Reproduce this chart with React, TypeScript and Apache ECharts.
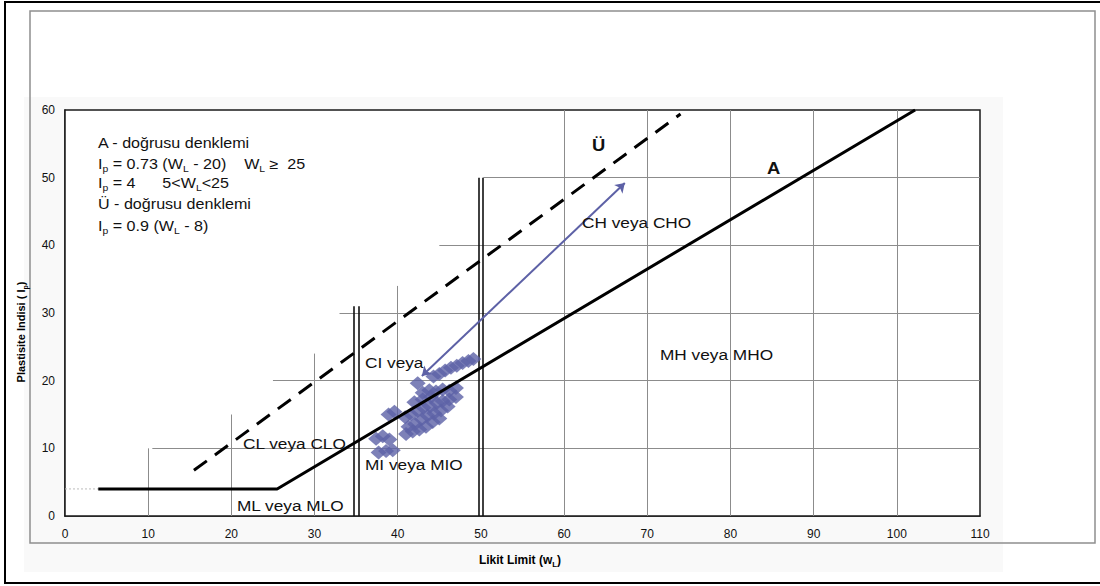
import React, { useEffect, useRef } from "react";
import * as echarts from "echarts";

// ---- axis ranges / ticks ----
const X_MIN = 0;
const X_MAX = 110;
const X_STEP = 10;
const Y_MIN = 0;
const Y_MAX = 60;
const Y_STEP = 10;

// ---- classification lines ----
const aLine: number[][] = [
  [4, 4],
  [25.5, 4],
  [102.2, 60],
];
const uLine: number[][] = [
  [15.5, 6.75],
  [74, 59.4],
];
const ip4Guide: number[][] = [
  [0, 4],
  [4, 4],
];
// double vertical boundary lines (x, top y)
const doubleX = [34.7, 35.3, 49.75, 50.25];
const doubleTop = [31, 31, 50, 50];

// partial grid lines
const vGridX = [10, 20, 30, 40, 60, 70, 80, 90, 100];
const vGridTop = [10, 15, 24, 34, 60, 60, 60, 60, 60];
const hGridY = [10, 20, 30, 40, 50];
const hGridStart = [10.5, 25, 33, 45, 50.3];

// ---- sample data (purple) ----
const sampleLine: number[][] = [
  [42.9, 20.7],
  [67.3, 49.2],
];
const sampleX = [
  44.3, 45.0, 45.7, 46.4, 47.1, 47.8, 48.5, 49.1,
  42.4, 43.0, 43.8, 44.6, 45.4, 46.2, 47.0,
  40.9, 41.6, 42.4, 43.1, 43.9, 44.7, 45.4, 46.2, 47.0,
  41.3, 42.1, 42.9, 43.6, 44.4, 45.2, 46.0,
  41.0, 41.8, 42.6, 43.4, 44.2, 45.0,
  42.0, 43.0, 44.0,
  38.9, 39.6,
  37.4, 38.2, 39.0,
  37.7, 38.6, 39.4,
];
const sampleY = [
  20.6, 21.0, 21.5, 21.9, 22.2, 22.6, 22.9, 23.2,
  19.6, 18.2, 18.6, 18.4, 18.7, 18.5, 18.9,
  14.6, 15.0, 15.5, 16.0, 16.2, 16.7, 17.0, 17.2, 17.6,
  13.2, 13.6, 14.3, 14.8, 15.2, 15.6, 16.2,
  12.1, 12.5, 12.8, 13.2, 13.9, 14.4,
  16.8, 17.2, 17.6,
  15.0, 15.4,
  11.4, 11.8, 11.3,
  9.4, 9.6, 9.7,
];

const PURPLE = "#5d61a6";
const FONT = "'Liberation Sans', Arial, Helvetica, sans-serif";
const SX = 1.15;

function App() {
  const ref = useRef<HTMLDivElement>(null);

  useEffect(() => {
    document.body.style.margin = "0";
    if (!ref.current) return;
    const chart = echarts.init(ref.current, undefined, { renderer: "svg" });

    const vGridData = vGridX.map((x, i) => ({ coords: [[x, Y_MIN], [x, vGridTop[i]]] }));
    const hGridData = hGridY.map((y, i) => ({ coords: [[hGridStart[i], y], [X_MAX, y]] }));
    const doubleData = doubleX.map((x, i) => ({ coords: [[x, Y_MIN], [x, doubleTop[i]]] }));
    const samplePts = sampleX.map((x, i) => [x, sampleY[i]]);

    const annot = (text: string, x: number, y: number, size = 15, bold = false) => ({
      type: "text",
      x,
      y,
      scaleX: SX,
      z: 100,
      style: {
        text,
        x: 0,
        y: 0,
        fill: "#111",
        font: `${bold ? "bold " : ""}${size}px ${FONT}`,
        align: "left",
        verticalAlign: "middle",
      },
    });

    const rich = {
      n: { fontSize: 14, fontFamily: FONT, color: "#111", verticalAlign: "bottom", lineHeight: 16, padding: [0, 0, 2, 0] },
      s: { fontSize: 9, fontFamily: FONT, color: "#111", verticalAlign: "bottom", lineHeight: 10 },
    };
    const eq = (text: string, x: number, y: number) => ({
      type: "text",
      x,
      y,
      scaleX: SX,
      z: 100,
      style: { text, x: 0, y: 0, rich, align: "left", verticalAlign: "middle", font: `14px ${FONT}`, fill: "#111" },
    });

    const option: any = {
      animation: false,
      backgroundColor: "#ffffff",
      grid: {
        left: 65,
        top: 110,
        right: 120,
        bottom: 70,
        show: true,
        backgroundColor: "#ffffff",
        borderColor: "#1a1a1a",
        borderWidth: 1.5,
        z: 1,
      },
      xAxis: {
        type: "value",
        min: X_MIN,
        max: X_MAX,
        interval: X_STEP,
        axisLine: { show: true, lineStyle: { color: "#1a1a1a", width: 1.5 } },
        axisTick: { show: false },
        splitLine: { show: false },
        axisLabel: { fontSize: 12, color: "#111", margin: 12, fontFamily: FONT },
      },
      yAxis: {
        type: "value",
        min: Y_MIN,
        max: Y_MAX,
        interval: Y_STEP,
        axisLine: { show: true, lineStyle: { color: "#1a1a1a", width: 1.5 } },
        axisTick: { show: false },
        splitLine: { show: false },
        axisLabel: { fontSize: 12, color: "#111", margin: 10, fontFamily: FONT },
      },
      series: [
        {
          type: "lines",
          coordinateSystem: "cartesian2d",
          silent: true,
          lineStyle: { color: "#8c8c8c", width: 1, opacity: 1 },
          data: [...vGridData, ...hGridData],
          z: 2,
        },
        {
          type: "line",
          data: ip4Guide,
          showSymbol: false,
          silent: true,
          lineStyle: { color: "#bbbbbb", width: 1, type: [2, 2] },
          z: 2,
        },
        {
          type: "lines",
          coordinateSystem: "cartesian2d",
          silent: true,
          lineStyle: { color: "#111", width: 1.6, opacity: 1 },
          data: doubleData,
          z: 3,
        },
        {
          name: "A",
          type: "line",
          data: aLine,
          showSymbol: false,
          silent: true,
          lineStyle: { color: "#000", width: 3 },
          z: 5,
        },
        {
          name: "Ü",
          type: "line",
          data: uLine,
          showSymbol: false,
          silent: true,
          lineStyle: { color: "#000", width: 3, type: [16, 10] },
          z: 5,
        },
        {
          type: "scatter",
          data: samplePts,
          symbol: "diamond",
          symbolSize: [16, 14],
          itemStyle: { color: PURPLE },
          silent: true,
          z: 4,
        },
        {
          type: "lines",
          coordinateSystem: "cartesian2d",
          silent: true,
          symbol: ["arrow", "arrow"],
          symbolSize: 9,
          lineStyle: { color: PURPLE, width: 2, opacity: 1 },
          data: [{ coords: sampleLine }],
          z: 4,
        },
      ],
      graphic: [
        { type: "rect", z: -10, silent: true, shape: { x: 24, y: 97, width: 979, height: 475 }, style: { fill: "#f9f9f9" } },
        { type: "rect", z: -5, silent: true, shape: { x: 30, y: 11, width: 1065, height: 532 }, style: { fill: "none", stroke: "#8f8f8f", lineWidth: 1.5 } },
        { type: "rect", z: 200, silent: true, shape: { x: 5, y: 2, width: 1200, height: 581 }, style: { fill: "none", stroke: "#000", lineWidth: 2 } },

        annot("A - doğrusu denklemi", 98, 143, 14),
        eq("{n|I}{s|p}{n| = 0.73 (W}{s|L}{n| - 20)    W}{s|L}{n| ≥  25}", 98, 165),
        eq("{n|I}{s|p}{n| = 4      5<W}{s|L}{n|<25}", 98, 184),
        annot("Ü - doğrusu denklemi", 98, 204, 14),
        eq("{n|I}{s|p}{n| = 0.9 (W}{s|L}{n| - 8)}", 98, 227),

        annot("CL veya CLO", 243, 443),
        annot("CI veya", 365, 362),
        annot("MI veya MIO", 365, 464),
        annot("ML veya MLO", 237, 505),
        annot("CH veya CHO", 582, 222),
        annot("MH veya MHO", 660, 354),
        annot("A", 767, 168, 16, true),
        annot("Ü", 592, 145, 16, true),

        {
          type: "text",
          x: 520,
          y: 561,
          z: 100,
          style: {
            text: "{b|Likit Limit (w}{bs|L}{b|)}",
            x: 0,
            y: 0,
            align: "center",
            verticalAlign: "middle",
            font: `bold 12px ${FONT}`,
            rich: {
              b: { fontSize: 12, fontWeight: "bold", fontFamily: FONT, color: "#111", verticalAlign: "bottom", lineHeight: 14, padding: [0, 0, 2, 0] },
              bs: { fontSize: 8, fontWeight: "bold", fontFamily: FONT, color: "#111", verticalAlign: "bottom", lineHeight: 9 },
            },
          },
        },
        {
          type: "text",
          x: 22,
          y: 332,
          rotation: Math.PI / 2,
          z: 100,
          style: {
            text: "{b|Plastisite Indisi ( I}{bs|p}{b|)}",
            x: 0,
            y: 0,
            align: "center",
            verticalAlign: "middle",
            font: `bold 11px ${FONT}`,
            rich: {
              b: { fontSize: 11, fontWeight: "bold", fontFamily: FONT, color: "#333", verticalAlign: "bottom", lineHeight: 13, padding: [0, 0, 2, 0] },
              bs: { fontSize: 7, fontWeight: "bold", fontFamily: FONT, color: "#333", verticalAlign: "bottom", lineHeight: 8 },
            },
          },
        },
      ],
    };

    chart.setOption(option);
    return () => chart.dispose();
  }, []);

  return <div ref={ref} style={{ width: 1100, height: 586 }} />;
}

export default App;
